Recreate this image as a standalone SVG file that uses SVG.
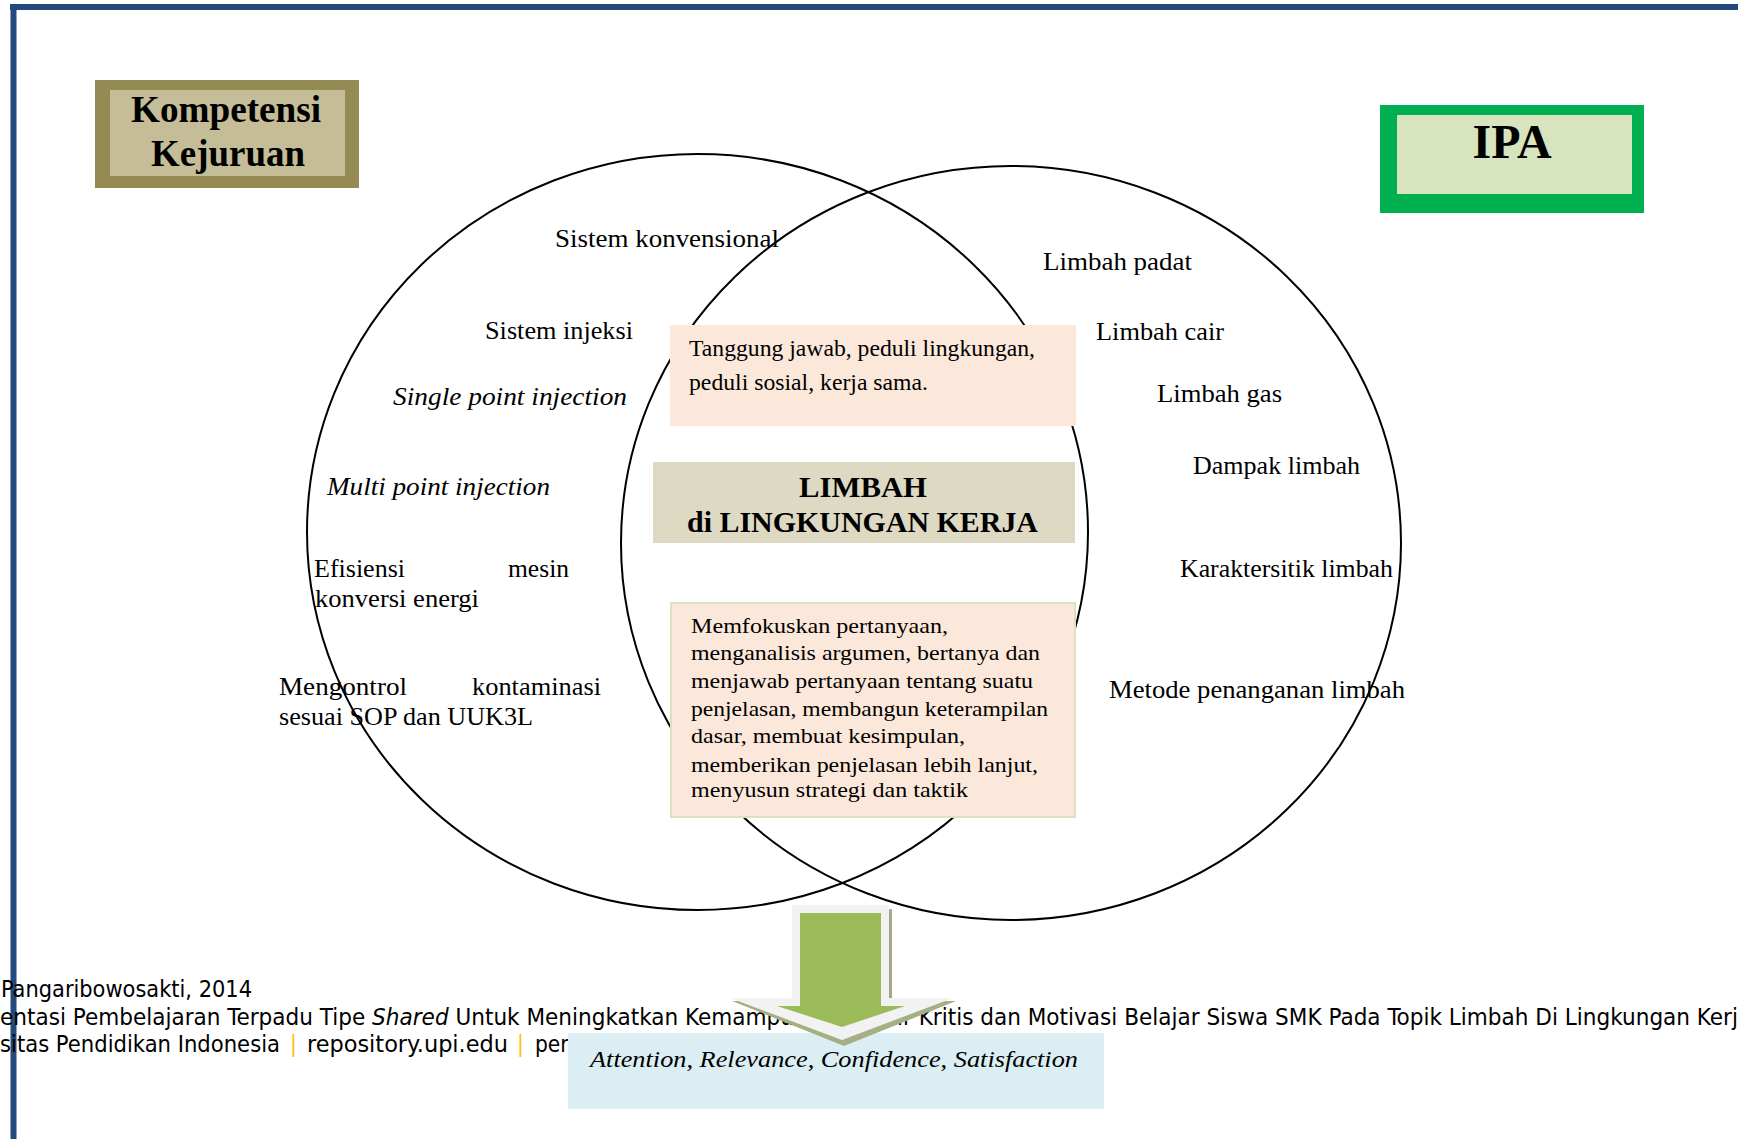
<svg xmlns="http://www.w3.org/2000/svg" width="1738" height="1139" viewBox="0 0 1738 1139">
<style>
.t{font-family:"Liberation Serif","Times New Roman",serif;font-size:26px;fill:#000}
.i{font-style:italic}
.b{font-weight:bold}
.s{font-size:23.5px}
.m{font-size:22px}
.h1{font-size:38px}
.h2{font-size:48px}
.h3{font-size:30px}
.cap{font-size:23px}
.f{font-family:"DejaVu Sans Condensed","DejaVu Sans",sans-serif;font-stretch:condensed;font-size:22.5px;fill:#000}
.bar{fill:#FFC000}
.ell{fill:none;stroke:#000;stroke-width:2}
</style>
<rect x="0" y="0" width="1738" height="1139" fill="#fff"/>
<g id="frame">
<line x1="10" y1="7" x2="1738" y2="7" stroke="#23497D" stroke-width="6"/>
<line x1="13.5" y1="4" x2="13.5" y2="1139" stroke="#23497D" stroke-width="6"/>
</g>
<g id="footer">
<text class="f" x="1" y="997" textLength="251" lengthAdjust="spacingAndGlyphs">Pangaribowosakti, 2014</text>
<text class="f" x="0" y="1025" textLength="1738" lengthAdjust="spacingAndGlyphs">entasi Pembelajaran Terpadu Tipe <tspan font-style="italic">Shared</tspan> Untuk Meningkatkan Kemampuan Berpikir Kritis dan Motivasi Belajar Siswa SMK Pada Topik Limbah Di Lingkungan Kerj</text>
<text class="f" x="0" y="1052" textLength="280" lengthAdjust="spacingAndGlyphs">sitas Pendidikan Indonesia</text>
<text class="f bar" x="290" y="1052">|</text>
<text class="f" x="307" y="1052" textLength="201" lengthAdjust="spacingAndGlyphs">repository.upi.edu</text>
<text class="f bar" x="517" y="1052">|</text>
<text class="f" x="535" y="1052">per</text>
</g>
<g id="kompetensi-kejuruan">
<rect x="95" y="80" width="264" height="108" fill="#948A54"/>
<rect x="110" y="90" width="235" height="86" fill="#C4BD97"/>
<text class="t b h1" x="226" y="122" text-anchor="middle" textLength="190" lengthAdjust="spacingAndGlyphs">Kompetensi</text>
<text class="t b h1" x="228" y="166" text-anchor="middle" textLength="154" lengthAdjust="spacingAndGlyphs">Kejuruan</text>
</g>
<g id="ipa">
<rect x="1380" y="105" width="264" height="108" fill="#00B050"/>
<rect x="1397" y="115" width="235" height="79" fill="#D7E4BD"/>
<text class="t b h2" x="1512" y="158" text-anchor="middle" textLength="79" lengthAdjust="spacingAndGlyphs">IPA</text>
</g>
<g id="circle-kompetensi">
<ellipse class="ell" cx="697.5" cy="532" rx="390.5" ry="378"/>
</g>
<g id="circle-ipa">
<ellipse class="ell" cx="1011" cy="543" rx="390" ry="377"/>
</g>
<g id="left-items">
<text class="t" x="555" y="247" textLength="224" lengthAdjust="spacingAndGlyphs">Sistem konvensional</text>
<text class="t" x="485" y="339" textLength="148" lengthAdjust="spacingAndGlyphs">Sistem injeksi</text>
<text class="t i" x="393" y="405" textLength="234" lengthAdjust="spacingAndGlyphs">Single point injection</text>
<text class="t i" x="327" y="495" textLength="223" lengthAdjust="spacingAndGlyphs">Multi point injection</text>
<text class="t" x="314" y="577" textLength="91" lengthAdjust="spacingAndGlyphs">Efisiensi</text>
<text class="t" x="508" y="577" textLength="61" lengthAdjust="spacingAndGlyphs">mesin</text>
<text class="t" x="315" y="607" textLength="164" lengthAdjust="spacingAndGlyphs">konversi energi</text>
<text class="t" x="279" y="695" textLength="128" lengthAdjust="spacingAndGlyphs">Mengontrol</text>
<text class="t" x="472" y="695" textLength="129" lengthAdjust="spacingAndGlyphs">kontaminasi</text>
<text class="t" x="279" y="725" textLength="254" lengthAdjust="spacingAndGlyphs">sesuai SOP dan UUK3L</text>
</g>
<g id="right-items">
<text class="t" x="1043" y="270" textLength="149" lengthAdjust="spacingAndGlyphs">Limbah  padat</text>
<text class="t" x="1096" y="340" textLength="128" lengthAdjust="spacingAndGlyphs">Limbah  cair</text>
<text class="t" x="1157" y="402" textLength="125" lengthAdjust="spacingAndGlyphs">Limbah  gas</text>
<text class="t" x="1193" y="474" textLength="167" lengthAdjust="spacingAndGlyphs">Dampak  limbah</text>
<text class="t" x="1180" y="577" textLength="213" lengthAdjust="spacingAndGlyphs">Karaktersitik  limbah</text>
<text class="t" x="1109" y="698" textLength="296" lengthAdjust="spacingAndGlyphs">Metode penanganan limbah</text>
</g>
<g id="sikap">
<rect x="670" y="325" width="406" height="101" fill="#FCE8DA"/>
<text class="t s" x="689" y="356" textLength="346" lengthAdjust="spacingAndGlyphs">Tanggung  jawab, peduli lingkungan,</text>
<text class="t s" x="689" y="390" textLength="239" lengthAdjust="spacingAndGlyphs">peduli sosial, kerja sama.</text>
</g>
<g id="limbah">
<rect x="653" y="462" width="422" height="81" fill="#DDD9C3"/>
<text class="t b h3" x="863" y="497" text-anchor="middle" textLength="128" lengthAdjust="spacingAndGlyphs">LIMBAH</text>
<text class="t b h3" x="862.5" y="532" text-anchor="middle" textLength="351" lengthAdjust="spacingAndGlyphs">di LINGKUNGAN KERJA</text>
</g>
<g id="berpikir-kritis">
<rect x="671" y="603" width="404" height="214" fill="#FCE8DA" stroke="#D7E4BD" stroke-width="2"/>
<text class="t m" x="691" y="633" textLength="257" lengthAdjust="spacingAndGlyphs">Memfokuskan pertanyaan,</text>
<text class="t m" x="691" y="660" textLength="349" lengthAdjust="spacingAndGlyphs">menganalisis  argumen,  bertanya dan</text>
<text class="t m" x="691" y="688" textLength="342" lengthAdjust="spacingAndGlyphs">menjawab pertanyaan tentang suatu</text>
<text class="t m" x="691" y="716" textLength="357" lengthAdjust="spacingAndGlyphs">penjelasan, membangun  keterampilan</text>
<text class="t m" x="691" y="743" textLength="274" lengthAdjust="spacingAndGlyphs">dasar, membuat  kesimpulan,</text>
<text class="t m" x="691" y="772" textLength="347" lengthAdjust="spacingAndGlyphs">memberikan  penjelasan  lebih  lanjut,</text>
<text class="t m" x="691" y="797" textLength="277" lengthAdjust="spacingAndGlyphs">menyusun strategi  dan taktik</text>
</g>
<g id="motivasi">
<rect x="568" y="1033" width="536" height="76" fill="#DAEEF3"/>
<text class="t i cap" x="590" y="1067" textLength="488" lengthAdjust="spacingAndGlyphs">Attention,  Relevance, Confidence, Satisfaction</text>
</g>
<g id="connectors">
<polygon points="794,909 892,909 892,1001 956,1001 844,1046 732,1001 794,1001" fill="#A4B083"/>
<polygon points="792,905 889,905 889,998 953,998 842,1040 730,998 792,998" fill="#F2F2F2"/>
<line x1="890.5" y1="912" x2="890.5" y2="998" stroke="#A6A68C" stroke-width="3"/>
<polygon points="800,913 881,913 881,1006 905,1006 842,1027 777,1006 800,1006" fill="#9BBB59"/>
</g>
</svg>
